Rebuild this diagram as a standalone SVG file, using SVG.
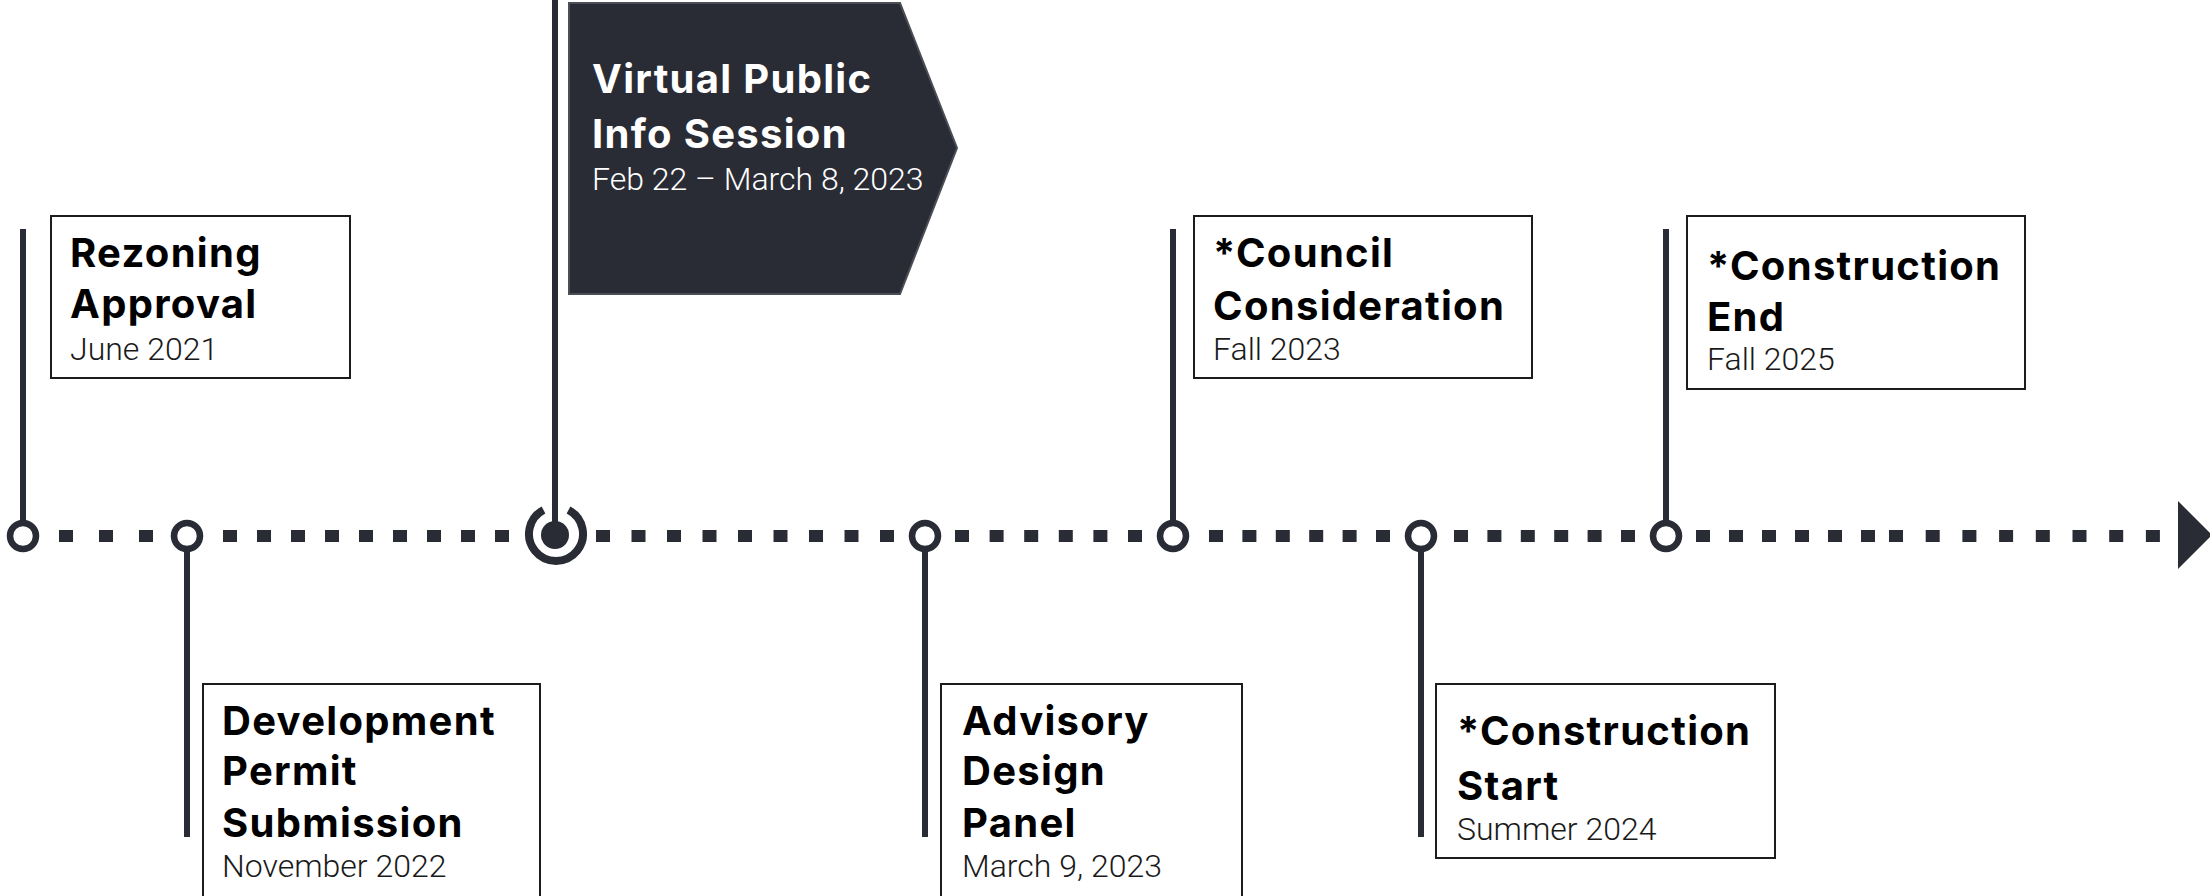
<svg xmlns="http://www.w3.org/2000/svg" width="2210" height="896" viewBox="0 0 2210 896">
  <style>
    .stem { stroke: #2a2c35; stroke-width: 6; fill: none; }
    .node { fill: #ffffff; stroke: #2a2c35; stroke-width: 6.5; }
    .dots { stroke: #2a2c35; stroke-width: 12; fill: none; }
    .card { fill: #ffffff; stroke: #1c1c1f; stroke-width: 2; }
    .title { font-family: Inter, "Liberation Sans", sans-serif; font-weight: 700; font-size: 40px; letter-spacing: 1.3px; fill: #000000; }
    .date { font-family: Roboto, "Liberation Sans", sans-serif; font-weight: 300; font-size: 32px; fill: #1a1a1a; }
    .title-inv { font-family: Inter, "Liberation Sans", sans-serif; font-weight: 700; font-size: 40px; letter-spacing: 1.3px; fill: #ffffff; }
    .date-inv { font-family: Roboto, "Liberation Sans", sans-serif; font-weight: 300; font-size: 32px; fill: #ffffff; }
  </style>

  <rect width="2210" height="896" fill="#ffffff"/>

  <!-- dotted timeline with arrow -->
  <g id="connectors">
    <line class="dots" x1="59" y1="536" x2="154" y2="536" stroke-dasharray="14 26"/>
    <line class="dots" x1="223" y1="536" x2="509" y2="536" stroke-dasharray="14 20"/>
    <line class="dots" x1="596" y1="536" x2="894" y2="536" stroke-dasharray="14 21.5"/>
    <line class="dots" x1="955" y1="536" x2="1142" y2="536" stroke-dasharray="14 20.6"/>
    <line class="dots" x1="1209" y1="536" x2="1390" y2="536" stroke-dasharray="14 19.4"/>
    <line class="dots" x1="1454" y1="536" x2="1635" y2="536" stroke-dasharray="14 19.4"/>
    <line class="dots" x1="1696" y1="536" x2="1875" y2="536" stroke-dasharray="14 19"/>
    <line class="dots" x1="1889" y1="536" x2="2160" y2="536" stroke-dasharray="14 22.7"/>
    <polygon points="2178,501 2212,535 2178,569" fill="#2a2c35"/>
  </g>

  <g id="rezoning-approval">
    <line class="stem" x1="23" y1="229" x2="23" y2="536"/>
    <circle class="node" cx="23" cy="536" r="13"/>
    <rect class="card" x="51" y="216" width="299" height="162"/>
    <text class="title" x="70" y="267">Rezoning</text>
    <text class="title" x="70" y="318">Approval</text>
    <text class="date" x="70" y="360">June 2021</text>
  </g>

  <g id="development-permit">
    <line class="stem" x1="187" y1="536" x2="187" y2="837"/>
    <circle class="node" cx="187" cy="536" r="13"/>
    <rect class="card" x="203" y="684" width="337" height="220"/>
    <text class="title" x="222" y="735">Development</text>
    <text class="title" x="222" y="785">Permit</text>
    <text class="title" x="222" y="837">Submission</text>
    <text class="date" x="222" y="877">November 2022</text>
  </g>

  <g id="virtual-info-session">
    <line class="stem" x1="555" y1="0" x2="555" y2="534"/>
    <path d="M 543.5 510 A 27 27 0 1 0 568.5 510" fill="none" stroke="#2a2c35" stroke-width="8"/>
    <circle cx="555" cy="535" r="14" fill="#2a2c35"/>
    <polygon points="569,3 900,3 957,148 900,294 569,294" fill="#2a2c35" stroke="#4c4e56" stroke-width="2"/>
    <text class="title-inv" x="592" y="93">Virtual Public</text>
    <text class="title-inv" x="592" y="148">Info Session</text>
    <text class="date-inv" x="592" y="190">Feb 22 – March 8, 2023</text>
  </g>

  <g id="advisory-design-panel">
    <line class="stem" x1="925" y1="536" x2="925" y2="837"/>
    <circle class="node" cx="925" cy="536" r="13"/>
    <rect class="card" x="941" y="684" width="301" height="220"/>
    <text class="title" x="962" y="735">Advisory</text>
    <text class="title" x="962" y="785">Design</text>
    <text class="title" x="962" y="837">Panel</text>
    <text class="date" x="962" y="877">March 9, 2023</text>
  </g>

  <g id="council-consideration">
    <line class="stem" x1="1173" y1="229" x2="1173" y2="536"/>
    <circle class="node" cx="1173" cy="536" r="13"/>
    <rect class="card" x="1194" y="216" width="338" height="162"/>
    <text class="title" x="1213" y="267">*Council</text>
    <text class="title" x="1213" y="320">Consideration</text>
    <text class="date" x="1213" y="360">Fall 2023</text>
  </g>

  <g id="construction-start">
    <line class="stem" x1="1421" y1="536" x2="1421" y2="837"/>
    <circle class="node" cx="1421" cy="536" r="13"/>
    <rect class="card" x="1436" y="684" width="339" height="174"/>
    <text class="title" x="1457" y="745">*Construction</text>
    <text class="title" x="1457" y="800">Start</text>
    <text class="date" x="1457" y="840">Summer 2024</text>
  </g>

  <g id="construction-end">
    <line class="stem" x1="1666" y1="229" x2="1666" y2="536"/>
    <circle class="node" cx="1666" cy="536" r="13"/>
    <rect class="card" x="1687" y="216" width="338" height="173"/>
    <text class="title" x="1707" y="280">*Construction</text>
    <text class="title" x="1707" y="331">End</text>
    <text class="date" x="1707" y="370">Fall 2025</text>
  </g>
</svg>
